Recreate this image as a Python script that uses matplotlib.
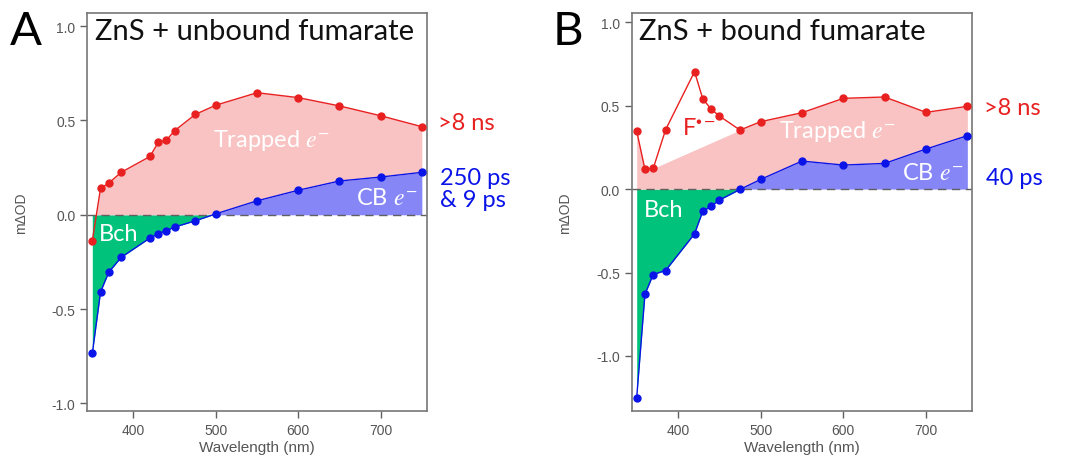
import matplotlib.pyplot as plt
import numpy as np

plt.rcParams['font.family'] = ['Lato', 'DejaVu Sans']
plt.rcParams['mathtext.fontset'] = 'stix'

# data
# ======================================================================================================================

wl = np.array([350, 360, 370, 385, 420, 430, 440, 450, 475, 500, 550, 600, 650, 700, 750])

trap_a = np.array([-0.137, 0.14, 0.168, 0.225, 0.309, 0.384, 0.396, 0.446, 0.532, 0.581, 0.647, 0.621, 0.577,
                   0.525, 0.467])
cb_a = np.array([-0.735, -0.409, -0.304, -0.226, -0.123, -0.10, -0.084, -0.065, -0.032, 0.005, 0.074, 0.13, 0.179,
                 0.20, 0.225])

trap_b = np.array([0.348, 0.118, 0.124, 0.356, 0.704, 0.54, 0.48, 0.438, 0.354, 0.404, 0.458, 0.544, 0.552, 0.46,
                   0.496])
cb_b = np.array([-1.25, -0.63, -0.512, -0.488, -0.268, -0.132, -0.104, -0.066, -0.002, 0.058, 0.168, 0.144, 0.154,
                 0.24, 0.32])
# points of the F radical anion peak, left out of the trapped electron area
radical_b = [385, 420, 430, 440, 450]

titles = ["ZnS + unbound fumarate", "ZnS + bound fumarate"]
letters = ["A", "B"]
slow_labels = [">8 ns", ">8 ns"]
fast_labels = ["250 ps\n& 9 ps", "40 ps"]
ylims = [(-1.04, 1.07), (-1.33, 1.056)]

RED = "#e82020"
PINK = "#f9c3c3"
GREEN = "#00c27a"
BLUE_FILL = "#8686f7"
BLUE = "#0a14e8"
GREY = "#606060"

# plotting
# ======================================================================================================================

fig = plt.figure(figsize=(10.68, 4.56), dpi=100)
ax_a = fig.add_axes([0.0818, 0.0965, 0.3178, 0.873])
ax_b = fig.add_axes([0.5915, 0.0965, 0.3189, 0.873])

for i, (ax, trap, cb) in enumerate([(ax_a, trap_a, cb_a), (ax_b, trap_b, cb_b)]):
    floor = np.maximum(cb, 0)

    ax.fill_between(wl, cb, 0, where=cb <= 0, interpolate=True, color=GREEN, lw=0, zorder=1)
    ax.fill_between(wl, 0, cb, where=cb >= 0, interpolate=True, color=BLUE_FILL, lw=0, zorder=1)
    if i == 0:
        ax.fill_between(wl, floor, trap, where=trap >= floor, interpolate=True, color=PINK, lw=0, zorder=1)
    else:
        keep = ~np.isin(wl, radical_b)
        ax.fill_between(wl[keep], floor[keep], trap[keep], color=PINK, lw=0, zorder=1)

    ax.axhline(0, color=GREY, lw=1, ls=(0, (6, 4)), zorder=2)
    ax.plot(wl, trap, "-o", color=RED, lw=1, ms=5, zorder=4, clip_on=False)
    ax.plot(wl, cb, "-o", color=BLUE, lw=1, ms=5, zorder=4, clip_on=False)

    ax.set_xlim(344, 756)
    ax.set_ylim(*ylims[i])
    ax.set_xticks([400, 500, 600, 700])
    ax.set_yticks([-1.0, -0.5, 0.0, 0.5, 1.0])
    ax.set_yticklabels(["-1.0", "-0.5", "0.0", "0.5", "1.0"])
    ax.tick_params(direction="out", length=5, width=1, color=GREY, labelcolor="#555555", labelsize=10,
                   labelfontfamily="Liberation Sans")
    for s in ax.spines.values():
        s.set_color("#777777")
        s.set_linewidth(1.2)

    ax.set_xlabel("Wavelength (nm)", fontsize=11, color="#555555", family="Liberation Sans", labelpad=2)
    ax.set_ylabel("m\u0394OD", fontsize=10, color="#555555", family="Liberation Sans")
    ax.yaxis.set_label_coords(-0.175, 0.5)

    ax.text(0.022, 0.955, titles[i], transform=ax.transAxes, fontsize=21, va="center", ha="left", color="#111111")
    ax.text(770, 0.49, slow_labels[i], fontsize=17, color=RED, va="center", ha="left", clip_on=False)

ax_a.text(772, 0.14, fast_labels[0], fontsize=17, color=BLUE, va="center", ha="left", linespacing=1.1)
ax_b.text(773, 0.07, fast_labels[1], fontsize=17, color=BLUE, va="center", ha="left")

ax_a.text(568, 0.40, r"Trapped $e^{-}$", fontsize=17, color="white", ha="center", va="center", zorder=3)
ax_b.text(593, 0.35, r"Trapped $e^{-}$", fontsize=17, color="white", ha="center", va="center", zorder=3)
ax_a.text(745, 0.094, r"CB $e^{-}$", fontsize=17, color="white", ha="right", va="center", zorder=3)
ax_b.text(745, 0.10, r"CB $e^{-}$", fontsize=17, color="white", ha="right", va="center", zorder=3)
ax_a.text(382, -0.10, "Bch", fontsize=17, color="white", ha="center", va="center", zorder=3)
ax_b.text(382, -0.124, "Bch", fontsize=17, color="white", ha="center", va="center", zorder=3)
ax_b.text(425, 0.37, r"F$^{\bullet -}$", fontsize=17, color=RED, ha="center", va="center", zorder=3)

fig.text(0.009, 0.93, letters[0], fontsize=34, ha="left", va="center", color="black")
fig.text(0.517, 0.93, letters[1], fontsize=34, ha="left", va="center", color="black")

plt.savefig("out.png", dpi=100)
